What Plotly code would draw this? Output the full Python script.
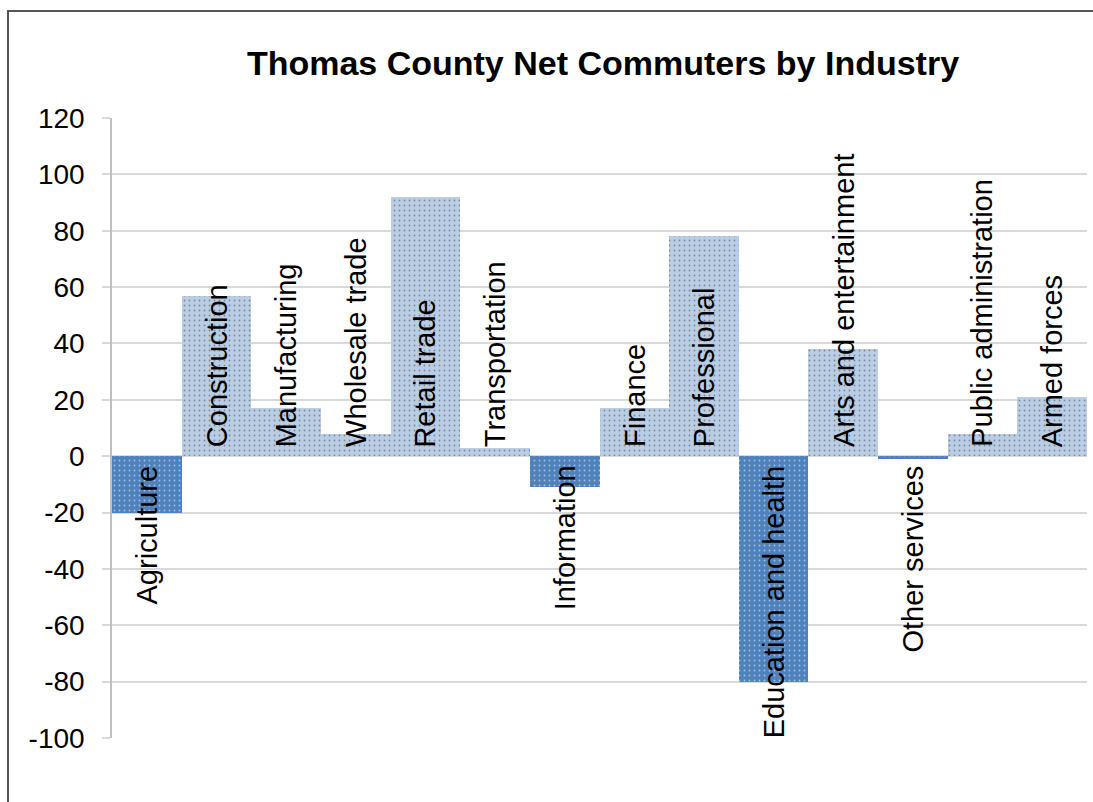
import plotly.graph_objects as go

categories = ["Agriculture", "Construction", "Manufacturing", "Wholesale trade", "Retail trade",
              "Transportation", "Information", "Finance", "Professional", "Education and health",
              "Arts and entertainment", "Other services", "Public administration", "Armed forces"]
values = [-20, 57, 17, 8, 92, 3, -11, 17, 78, -80, 38, -1, 8, 21]
y_ticks = [-100, -80, -60, -40, -20, 0, 20, 40, 60, 80, 100, 120]
y_tick_text = ["-100", "-80", "-60", "-40", "-20", "0", "20", "40", "60", "80", "100", "120"]

W, H = 1093, 802
L, R, T, B = 112, 6, 118, 64
pw, ph = W - L - R, H - T - B

pos_color = "#b9cde5"
neg_color = "#4f81bd"
colors = [pos_color if v >= 0 else neg_color for v in values]
dots = ["#abc2de" if v >= 0 else "#6690c6" for v in values]

fig = go.Figure()
fig.add_trace(go.Bar(
    x=categories, y=values,
    marker=dict(color=colors, line=dict(width=0),
                pattern=dict(shape=".", fgcolor=dots, size=5, solidity=0.1, fillmode="overlay")),
    showlegend=False, hoverinfo="x+y",
))

for c, v in zip(categories, values):
    if v >= 0:
        fig.add_annotation(x=c, y=0, xref="x", yref="y", text=c, textangle=-90,
                           showarrow=False, yanchor="bottom", xanchor="center", yshift=7,
                           font=dict(family="Liberation Sans, Arial, sans-serif", size=29, color="#000"))
    else:
        fig.add_annotation(x=c, y=0, xref="x", yref="y", text=c, textangle=-90,
                           showarrow=False, yanchor="top", xanchor="center", yshift=-7,
                           font=dict(family="Liberation Sans, Arial, sans-serif", size=29, color="#000"))

# outer frame: only top and left edges are visible in the picture
xl = (8 - L) / pw
xr = (W - L) / pw
yt = (H - B - 11) / ph
yb = -B / ph
fig.add_shape(type="path", xref="paper", yref="paper",
              path=f"M {xr},{yt} L {xl},{yt} L {xl},{yb}",
              line=dict(color="#555555", width=2), layer="above")

fig.update_layout(
    width=W, height=H,
    margin=dict(l=L, r=R, t=T, b=B),
    paper_bgcolor="white", plot_bgcolor="white",
    bargap=0,
    title=dict(text="<b>Thomas County Net Commuters by Industry</b>",
               x=603 / W, xanchor="center", y=1 - 63 / H, yanchor="middle",
               font=dict(family="Liberation Sans, Arial, sans-serif", size=34, color="#000")),
    xaxis=dict(showticklabels=False, showgrid=False, zeroline=False, showline=False, ticks=""),
    yaxis=dict(range=[-100, 120], tickvals=y_ticks, ticktext=y_tick_text,
               showgrid=True, gridcolor="#d9d9d9", gridwidth=1.5,
               zeroline=False, showline=True, linecolor="#bfbfbf", linewidth=1.5,
               ticks="outside", ticklen=8, tickcolor="#d9d9d9", tickwidth=1.5,
               ticklabelstandoff=12,
               tickfont=dict(family="Liberation Sans, Arial, sans-serif", size=28, color="#000")),
    font=dict(family="Liberation Sans, Arial, sans-serif"),
)

fig.write_html("out.html")
